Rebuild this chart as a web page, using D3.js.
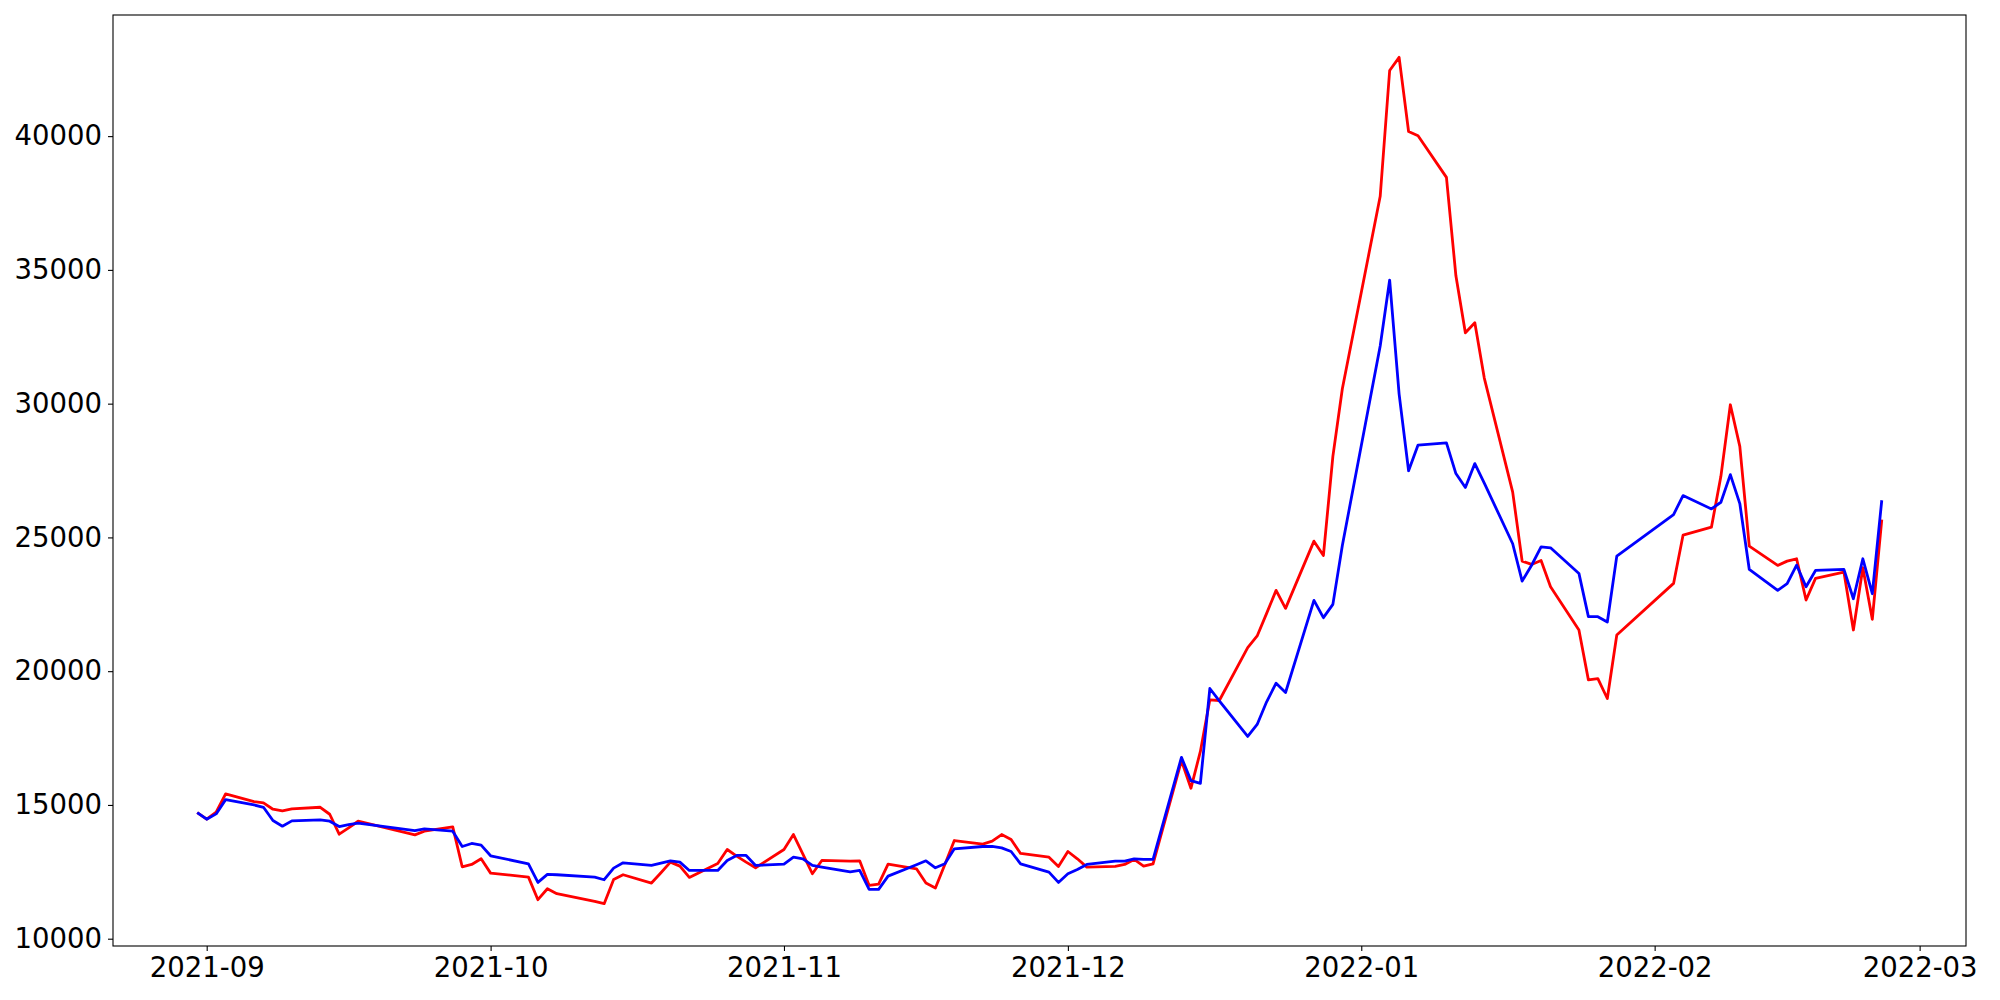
<!DOCTYPE html>
<html>
<head>
<meta charset="utf-8">
<script src="https://cdn.jsdelivr.net/npm/d3@7"></script>
<style>
  body { margin: 0; background: #fff; }
  svg { display: block; }
</style>
</head>
<body>
<div id="chart"></div>
<script>
const width = 2000;
const height = 1000;
const margin = {top: 15, right: 34, bottom: 54, left: 113};

// trading days
const dates = [
  "2021-08-31",
  "2021-09-01","2021-09-02","2021-09-03","2021-09-06","2021-09-07","2021-09-08","2021-09-09","2021-09-10",
  "2021-09-13","2021-09-14","2021-09-15","2021-09-16","2021-09-17","2021-09-23","2021-09-24",
  "2021-09-27","2021-09-28","2021-09-29","2021-09-30",
  "2021-10-01","2021-10-05","2021-10-06","2021-10-07","2021-10-08","2021-10-12","2021-10-13","2021-10-14","2021-10-15",
  "2021-10-18","2021-10-19","2021-10-20","2021-10-21","2021-10-22","2021-10-25","2021-10-26","2021-10-27","2021-10-28","2021-10-29",
  "2021-11-01","2021-11-02","2021-11-03","2021-11-04","2021-11-05","2021-11-08","2021-11-09","2021-11-10","2021-11-11","2021-11-12",
  "2021-11-15","2021-11-16","2021-11-17","2021-11-18","2021-11-19","2021-11-22","2021-11-23","2021-11-24","2021-11-25","2021-11-26",
  "2021-11-29","2021-11-30",
  "2021-12-01","2021-12-02","2021-12-03","2021-12-06","2021-12-07","2021-12-08","2021-12-09","2021-12-10",
  "2021-12-13","2021-12-14","2021-12-15","2021-12-16","2021-12-17","2021-12-20","2021-12-21","2021-12-22","2021-12-23","2021-12-24",
  "2021-12-27","2021-12-28","2021-12-29","2021-12-30",
  "2022-01-03","2022-01-04","2022-01-05","2022-01-06","2022-01-07","2022-01-10","2022-01-11","2022-01-12","2022-01-13","2022-01-14",
  "2022-01-17","2022-01-18","2022-01-19","2022-01-20","2022-01-21","2022-01-24","2022-01-25","2022-01-26","2022-01-27","2022-01-28",
  "2022-02-03","2022-02-04","2022-02-07","2022-02-08","2022-02-09","2022-02-10","2022-02-11",
  "2022-02-14","2022-02-15","2022-02-16","2022-02-17","2022-02-18","2022-02-21","2022-02-22","2022-02-23","2022-02-24","2022-02-25"
];

const redValues = [
  14715,
  14470,14727,15411,15125,15075,14839,14777,14851,
  14913,14652,13907,14143,14391,13882,14018,
  14180,12688,12775,12987,
  12452,12303,11458,11868,11682,11396,11309,12216,12390,
  12080,12465,12862,12713,12291,12813,13335,13086,12862,12651,
  13335,13894,13161,12428,12925,12900,12912,11992,12042,12788,
  12614,12080,11893,12776,13670,13534,13646,13894,13708,13186,
  13049,12701,
  13260,12987,12676,12701,12776,12962,12713,12800,
  16654,15622,17002,18929,18904,20881,21316,22162,23020,22348,
  24860,24325,28030,30558,
  37751,42453,42946,40175,40015,38457,34780,32649,33022,30957,
  26694,24114,23990,24139,23157,21540,19675,19725,18979,21354,
  23281,25084,25382,27284,29958,28404,24674,
  23952,24114,24201,22659,23467,23704,21540,23865,21938,25668
];

const blueValues = [
  14715,
  14466,14665,15199,15000,14913,14416,14205,14404,
  14441,14391,14192,14267,14317,14043,14105,
  14018,13447,13559,13496,
  13099,12800,12104,12402,12390,12303,12204,12639,12838,
  12738,12825,12912,12862,12552,12552,12925,13111,13111,12738,
  12788,13049,12987,12738,12676,12502,12552,11843,11843,12340,
  12763,12912,12651,12800,13360,13447,13447,13397,13260,12800,
  12490,12104,
  12428,12589,12776,12900,12900,12987,12962,12962,
  16778,15908,15808,19352,18892,17562,18009,18855,19551,19203,
  22647,22000,22498,24700,
  32156,34620,30358,27493,28453,28533,27387,26868,27760,27030,
  24763,23368,23960,24649,24611,23654,22038,22038,21839,24300,
  25855,26563,26066,26315,27347,26265,23803,
  23020,23269,23965,23157,23766,23803,22709,24201,22896,26389
];

const yTicks = [10000, 15000, 20000, 25000, 30000, 35000, 40000];
const xTicks = ["2021-09-01","2021-10-01","2021-11-01","2021-12-01","2022-01-01","2022-02-01","2022-03-01"];

const parse = d3.timeParse("%Y-%m-%d");
const days = dates.map(parse);

const series = [
  {color: "red", values: redValues},
  {color: "blue", values: blueValues}
];

const svg = d3.select("#chart")
  .append("svg")
  .attr("width", width)
  .attr("height", height);

const w = width - margin.left - margin.right;
const h = height - margin.top - margin.bottom;
const g = svg.append("g")
  .attr("transform", "translate(" + margin.left + "," + margin.top + ")");

// matplotlib style 5% padding on both axes
let xExt = d3.extent(days);
let xPad = (xExt[1] - xExt[0]) * 0.05;
const x = d3.scaleTime()
  .domain([new Date(+xExt[0] - xPad), new Date(+xExt[1] + xPad)])
  .range([0, w]);

let allVals = redValues.concat(blueValues);
let yExt = d3.extent(allVals);
let yPad = (yExt[1] - yExt[0]) * 0.05;
const y = d3.scaleLinear()
  .domain([yExt[0] - yPad, yExt[1] + yPad])
  .range([h, 0]);

const font = "DejaVu Sans, sans-serif";

let xAxis = g.append("g")
  .attr("transform", "translate(0," + h + ")")
  .call(d3.axisBottom(x)
    .tickValues(xTicks.map(parse))
    .tickFormat(d3.timeFormat("%Y-%m"))
    .tickSize(5)
    .tickPadding(6));

let yAxis = g.append("g")
  .call(d3.axisLeft(y)
    .tickValues(yTicks)
    .tickFormat(d3.format("d"))
    .tickSize(5)
    .tickPadding(6));

[xAxis, yAxis].forEach(function(a) {
  a.select(".domain").remove();
  a.selectAll("line").attr("stroke", "#000").attr("stroke-width", 1.1);
  a.selectAll("text")
    .attr("fill", "#000")
    .style("font-family", font)
    .style("font-size", "27.5px");
});

const line = d3.line()
  .x(function(d, i) { return x(days[i]); })
  .y(function(d) { return y(d); });

g.selectAll("path.series")
  .data(series)
  .enter()
  .append("path")
  .attr("class", "series")
  .attr("fill", "none")
  .attr("stroke", function(d) { return d.color; })
  .attr("stroke-width", 2.8)
  .attr("stroke-linejoin", "round")
  .attr("d", function(d) { return line(d.values); });

// frame
g.append("rect")
  .attr("width", w)
  .attr("height", h)
  .attr("fill", "none")
  .attr("stroke", "#000")
  .attr("stroke-width", 1.1);
</script>
</body>
</html>
